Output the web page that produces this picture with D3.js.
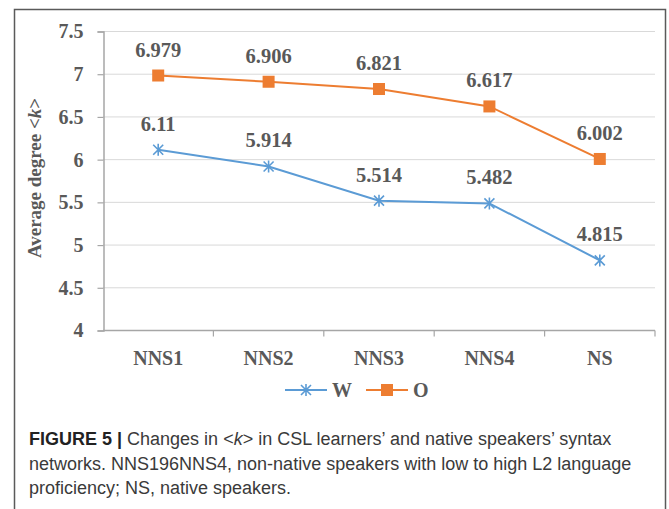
<!DOCTYPE html>
<html lang="en">
<head>
    <meta charset="UTF-8">
    <title>Average degree</title>
    <style>
        body { margin: 0; background: #fff; }
        #chart { display: block; }
    </style>
</head>
<body>
<svg id="chart"></svg>
<script src="https://cdn.jsdelivr.net/npm/d3@7/dist/d3.min.js"></script>
<script>
    var groups = ["NNS1", "NNS2", "NNS3", "NNS4", "NS"];
    var wValues = [6.11, 5.914, 5.514, 5.482, 4.815];
    var oValues = [6.979, 6.906, 6.821, 6.617, 6.002];
    var yTicks = [4, 4.5, 5, 5.5, 6, 6.5, 7, 7.5];
    var captionLines = [
        ["FIGURE 5 | ", "Changes in <", "k", "> in CSL learners\u2019 and native speakers\u2019 syntax"],
        ["", "networks. NNS196NNS4, non-native speakers with low to high L2 language"],
        ["", "proficiency; NS, native speakers."]
    ];

    (function () {
        var width = 669, height = 509;
        var svg = d3.select("#chart").attr("width", width).attr("height", height);
        var grey = "#595959";
        var serif = "'Liberation Serif', 'Times New Roman', serif";

        // outer frame
        svg.append("rect")
            .attr("x", 14.5).attr("y", 9.5)
            .attr("width", 651).attr("height", 510)
            .attr("fill", "none").attr("stroke", "#5a5a5a").attr("stroke-width", 1.5);

        var x = d3.scaleBand().domain(groups).range([103, 655]);
        var y = d3.scaleLinear().domain([4, 7.5]).range([330, 31]);

        // gridlines
        svg.append("g").selectAll("line")
            .data(yTicks.slice(1))
            .enter().append("line")
            .attr("x1", 103).attr("x2", 655)
            .attr("y1", function (d) { return y(d) + 0.5; })
            .attr("y2", function (d) { return y(d) + 0.5; })
            .attr("stroke", "#d9d9d9").attr("stroke-width", 1);

        // y axis
        var yAxis = svg.append("g")
            .attr("transform", "translate(103.5,0.5)")
            .call(d3.axisLeft(y).tickValues(yTicks).tickSize(6).tickPadding(14)
                .tickFormat(function (d) { return d; }));
        yAxis.select(".domain").attr("stroke", "#a6a6a6").attr("stroke-width", 1.5);
        yAxis.selectAll(".tick line").attr("stroke", "#a6a6a6").attr("stroke-width", 1.2);
        yAxis.selectAll("text")
            .attr("fill", grey).attr("font-family", serif)
            .attr("font-weight", "bold").attr("font-size", "20px");

        // x axis
        var xAxis = svg.append("g")
            .attr("transform", "translate(0,330.5)");
        xAxis.append("line")
            .attr("x1", 103).attr("x2", 655)
            .attr("stroke", "#a6a6a6").attr("stroke-width", 1.5);
        xAxis.selectAll(".xt")
            .data(groups)
            .enter().append("line")
            .attr("class", "xt")
            .attr("x1", function (d) { return x(d) + x.bandwidth(); })
            .attr("x2", function (d) { return x(d) + x.bandwidth(); })
            .attr("y1", 0).attr("y2", 6)
            .attr("stroke", "#a6a6a6").attr("stroke-width", 1.2);
        xAxis.selectAll(".xl")
            .data(groups)
            .enter().append("text")
            .attr("class", "xl")
            .attr("x", function (d) { return x(d) + x.bandwidth() / 2; })
            .attr("y", 34)
            .attr("text-anchor", "middle")
            .attr("fill", grey).attr("font-family", serif)
            .attr("font-weight", "bold").attr("font-size", "20px")
            .text(function (d) { return d; });

        // y title
        var yt = svg.append("text")
            .attr("transform", "translate(41,178) rotate(-90)")
            .attr("text-anchor", "middle")
            .attr("fill", grey).attr("font-family", serif)
            .attr("font-weight", "bold").attr("font-size", "19px");
        yt.append("tspan").text("Average degree <");
        yt.append("tspan").attr("font-style", "italic").text("k");
        yt.append("tspan").text(">");

        var line = d3.line()
            .x(function (d, i) { return x(groups[i]) + x.bandwidth() / 2; })
            .y(function (d) { return y(d); });

        var series = [
            { name: "W", values: wValues, color: "#5b9bd5", marker: "star" },
            { name: "O", values: oValues, color: "#ed7d31", marker: "square" }
        ];

        function drawMarker(g, type, color) {
            if (type === "square") {
                g.append("rect")
                    .attr("x", -6).attr("y", -6).attr("width", 12).attr("height", 12)
                    .attr("fill", color);
            } else {
                g.append("path")
                    .attr("d", "M-5,-5L5,5M-5,5L5,-5M0,-6L0,6")
                    .attr("stroke", color).attr("stroke-width", 1.6).attr("fill", "none");
            }
        }

        series.forEach(function (s) {
            svg.append("path")
                .datum(s.values)
                .attr("d", line)
                .attr("fill", "none")
                .attr("stroke", s.color)
                .attr("stroke-width", 2);

            s.values.forEach(function (v, i) {
                var cx = x(groups[i]) + x.bandwidth() / 2;
                var g = svg.append("g").attr("transform", "translate(" + cx + "," + y(v) + ")");
                drawMarker(g, s.marker, s.color);
                svg.append("text")
                    .attr("x", cx).attr("y", y(v) - 19)
                    .attr("text-anchor", "middle")
                    .attr("fill", grey).attr("font-family", serif)
                    .attr("font-weight", "bold").attr("font-size", "20.5px")
                    .text(v);
            });
        });

        // legend
        var legend = svg.append("g").attr("transform", "translate(0,390)");
        var legendX = [285, 366];
        series.forEach(function (s, i) {
            var lg = legend.append("g").attr("transform", "translate(" + legendX[i] + ",0)");
            lg.append("line").attr("x1", 0).attr("x2", 42)
                .attr("stroke", s.color).attr("stroke-width", 2);
            drawMarker(lg.append("g").attr("transform", "translate(21,0)"), s.marker, s.color);
            lg.append("text")
                .attr("x", 47).attr("y", 7)
                .attr("fill", grey).attr("font-family", serif)
                .attr("font-weight", "bold").attr("font-size", "20px")
                .text(s.name);
        });

        // caption
        var cap = svg.append("g")
            .attr("font-family", "'Liberation Sans', Arial, sans-serif")
            .attr("font-size", "18px").attr("fill", "#3a3a3a");
        captionLines.forEach(function (parts, li) {
            var t = cap.append("text").attr("x", 29).attr("y", 445 + li * 24.5);
            parts.forEach(function (p, pi) {
                if (!p) return;
                var ts = t.append("tspan").text(p);
                if (li === 0 && pi === 0) ts.attr("font-weight", "bold").attr("fill", "#222");
                if (li === 0 && pi === 2) ts.attr("font-style", "italic");
            });
        });
    })();
</script>
</body>
</html>
